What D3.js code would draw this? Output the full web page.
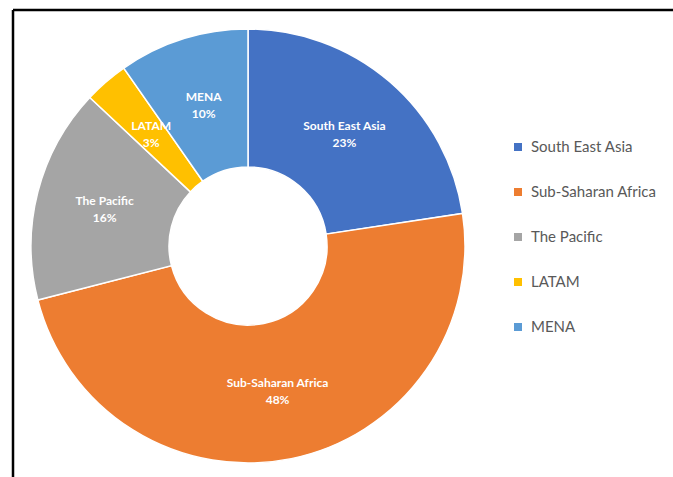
<!DOCTYPE html>
<html>
<head>
<meta charset="utf-8">
<script src="https://cdn.jsdelivr.net/npm/d3@7"></script>
<style>
  body { margin: 0; background: #fff; }
  svg { display: block; }
</style>
</head>
<body>
<div id="chart"></div>
<script>
const width = 673
const height = 477

// data (shares, labels show them rounded)
const regions = ["South East Asia", "Sub-Saharan Africa", "The Pacific", "LATAM", "MENA"]
const shares = [22.6, 48.4, 16.0, 3.3, 9.7]
const colors = ["#4472C4", "#ED7D31", "#A5A5A5", "#FFC000", "#5B9BD5"]

const data = regions.map((r, i) => ({region: r, value: shares[i]}))

const cx = 248, cy = 246
const outerR = 217, innerR = 79

const color = d3.scaleOrdinal().domain(regions).range(colors)

const pie = d3.pie()
    .value(d => d.value)
    .sort(null)

const arc = d3.arc()
    .innerRadius(innerR)
    .outerRadius(outerR)

const svg = d3.select("#chart").append("svg")
    .attr("width", width)
    .attr("height", height)
    .attr("viewBox", [0, 0, width, height])

// frame (top and left edges show in the crop)
svg.append("line")
    .attr("x1", 13).attr("x2", width)
    .attr("y1", 10).attr("y2", 10)
    .attr("stroke", "#000").attr("stroke-width", 2.5)
svg.append("line")
    .attr("x1", 13).attr("x2", 13)
    .attr("y1", 10).attr("y2", height)
    .attr("stroke", "#000").attr("stroke-width", 2.5)

const g = svg.append("g")
    .attr("transform", `translate(${cx},${cy})`)

const arcs = pie(data)

g.selectAll("path")
  .data(arcs)
  .join("path")
    .attr("d", arc)
    .attr("fill", d => color(d.data.region))
    .attr("stroke", "#fff")
    .attr("stroke-width", 1.5)

const labels = g.selectAll("text.lbl")
  .data(arcs)
  .join("text")
    .attr("class", "lbl")
    .attr("transform", d => `translate(${arc.centroid(d)})`)
    .attr("text-anchor", "middle")
    .attr("fill", "#fff")
    .attr("font-family", "Lato, 'Open Sans', sans-serif")
    .attr("font-size", 12)
    .attr("font-weight", "bold")

labels.append("tspan")
    .attr("x", 0).attr("y", -4)
    .text(d => d.data.region)
labels.append("tspan")
    .attr("x", 0).attr("y", 13)
    .text(d => Math.round(d.data.value) + "%")

// legend
const legend = svg.append("g")
    .attr("transform", "translate(514,147)")

const item = legend.selectAll("g")
  .data(regions)
  .join("g")
    .attr("transform", (d, i) => `translate(0,${i * 45})`)

item.append("rect")
    .attr("x", 0).attr("y", -4)
    .attr("width", 8).attr("height", 8)
    .attr("fill", d => color(d))

item.append("text")
    .attr("x", 17).attr("y", 0)
    .attr("dy", "0.35em")
    .attr("fill", "#595959")
    .attr("font-family", "Lato, 'Open Sans', sans-serif")
    .attr("font-size", 15)
    .text(d => d)
</script>
</body>
</html>
